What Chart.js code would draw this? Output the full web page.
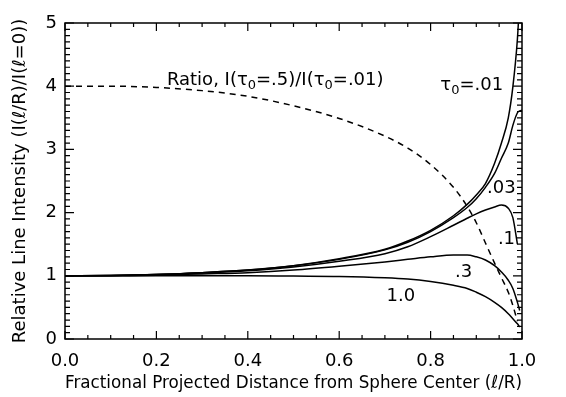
<!DOCTYPE html>
<html>
<head>
<meta charset="utf-8">
<script src="https://cdn.jsdelivr.net/npm/chart.js@4"></script>
<style>
  html,body{margin:0;padding:0;background:#fff;}
  #wrap{width:566px;height:397px;}
</style>
</head>
<body>
<div id="wrap"><canvas id="c"></canvas></div>
<script>
// shared x grid (l/R) and the curves
const xGrid  = [0, 0.1, 0.2, 0.3, 0.4, 0.5, 0.6, 0.7, 0.75, 0.8, 0.85, 0.88, 0.9, 0.92, 0.94, 0.955, 0.97, 0.98, 0.99, 0.995, 1.0];
const tau01  = [1.0, 1.005, 1.02, 1.05, 1.09, 1.16, 1.27, 1.42, 1.55, 1.72, 1.95, 2.13, 2.28, 2.46, 2.78, 3.1, 3.5, 3.99, 4.75, 5.4, null];
const tau03  = [1.0, 1.005, 1.02, 1.05, 1.09, 1.16, 1.26, 1.41, 1.53, 1.70, 1.92, 2.08, 2.22, 2.40, 2.62, 2.86, 3.1, 3.38, 3.58, 3.61, 3.62];
const tau1   = [1.0, 1.005, 1.02, 1.045, 1.08, 1.14, 1.23, 1.35, 1.46, 1.62, 1.80, 1.91, 1.98, 2.04, 2.09, 2.12, 2.07, 1.92, 1.5, null, null];
const tau3   = [1.0, 1.0, 1.01, 1.03, 1.05, 1.09, 1.15, 1.22, 1.26, 1.30, 1.33, 1.33, 1.30, 1.25, 1.16, 1.06, 0.93, 0.8, 0.58, 0.45, null];
const tau10  = [1.0, 1.0, 1.0, 1.0, 1.0, 0.995, 0.99, 0.97, 0.95, 0.91, 0.85, 0.80, 0.74, 0.67, 0.58, 0.5, 0.40, 0.32, 0.24, 0.19, null];
const ratio  = [4.0, 4.0, 3.98, 3.93, 3.84, 3.69, 3.49, 3.21, 3.02, 2.76, 2.4, 2.1, 1.84, 1.52, 1.2, 0.97, 0.74, 0.53, 0.28, null, null];

const xTicks = [0, 0.2, 0.4, 0.6, 0.8, 1.0];
const yTicks = [0, 1, 2, 3, 4, 5];

// text labels in the plot, "_0" means subscript 0
const notes = [
  { text:"Ratio, I(τ_0=.5)/I(τ_0=.01)", x:0.46, y:4.1 },
  { text:"τ_0=.01", x:0.89, y:4.02 },
  { text:".03", x:0.955, y:2.39 },
  { text:".1",  x:0.966, y:1.57 },
  { text:".3",  x:0.872, y:1.06 },
  { text:"1.0", x:0.735, y:0.67 },
];

const FONT = "'DejaVu Sans', sans-serif";
const FS = 18;
const pts = arr => xGrid.map((x,i)=>({x, y:arr[i]})).filter(p=>p.y!==null);

function line(arr, dash) {
  return { data:pts(arr), borderColor:"#000", borderWidth:1.5, pointRadius:0,
           cubicInterpolationMode:"monotone", borderDash:dash||[], fill:false };
}

function drawRich(ctx, str, cx, cy, size) {
  const parts = str.split(/_(\w)/);
  const big = size+"px "+FONT, small = Math.round(size*0.7)+"px "+FONT;
  let w = 0;
  parts.forEach((p,i)=>{ ctx.font = i%2 ? small : big; w += ctx.measureText(p).width; });
  let x = cx - w/2;
  ctx.textBaseline = "middle";
  parts.forEach((p,i)=>{
    ctx.font = i%2 ? small : big;
    ctx.fillText(p, x, i%2 ? cy+size*0.3 : cy);
    x += ctx.measureText(p).width;
  });
}

const frame = {
  id:"frame",
  afterDraw(chart) {
    const {ctx, chartArea:a, scales:{x, y}} = chart;
    ctx.save();
    ctx.strokeStyle = "#000"; ctx.lineWidth = 1.5;
    ctx.strokeRect(a.left, a.top, a.right-a.left, a.bottom-a.top);
    ctx.lineWidth = 1.2;
    ctx.beginPath();
    for (let i=0;i<=20;i++) {
      const px = x.getPixelForValue(i*0.05), len = i%4===0 ? 8 : 4;
      ctx.moveTo(px, a.bottom); ctx.lineTo(px, a.bottom-len);
      ctx.moveTo(px, a.top); ctx.lineTo(px, a.top+len);
    }
    for (let i=0;i<=50;i++) {
      const py = y.getPixelForValue(i*0.1), len = i%10===0 ? 9 : 5;
      ctx.moveTo(a.left, py); ctx.lineTo(a.left+len, py);
      ctx.moveTo(a.right, py); ctx.lineTo(a.right-len, py);
    }
    ctx.stroke();
    ctx.fillStyle = "#000";
    notes.forEach(n => drawRich(ctx, n.text, x.getPixelForValue(n.x), y.getPixelForValue(n.y), FS));
    ctx.restore();
  }
};

new Chart(document.getElementById("c"), {
  type:"line",
  data:{ datasets:[ line(tau01), line(tau03), line(tau1), line(tau3), line(tau10), line(ratio,[6,5]) ] },
  options:{
    responsive:true, maintainAspectRatio:false, animation:false,
    layout:{ padding:{ left:0, top:23, right:44, bottom:0 } },
    plugins:{ legend:{display:false}, tooltip:{enabled:false} },
    scales:{
      x:{ type:"linear", min:0, max:1,
          afterBuildTicks:s=>{ s.ticks = xTicks.map(v=>({value:v})); },
          afterFit:s=>{ s.height = 58; },
          grid:{display:false, drawTicks:false}, border:{display:false},
          ticks:{ color:"#000", padding:12, font:{family:FONT, size:FS}, callback:v=>v.toFixed(1), maxRotation:0 },
          title:{ display:true, text:"Fractional Projected Distance from Sphere Center (ℓ/R)", color:"#000",
                  font:{family:FONT, size:FS}, padding:{top:0, bottom:3} } },
      y:{ min:0, max:5,
          afterBuildTicks:s=>{ s.ticks = yTicks.map(v=>({value:v})); },
          afterFit:s=>{ s.width = 65; },
          grid:{display:false, drawTicks:false}, border:{display:false},
          ticks:{ color:"#000", padding:8, font:{family:FONT, size:FS} },
          title:{ display:true, text:"Relative Line Intensity (I(ℓ/R)/I(ℓ=0))", color:"#000",
                  font:{family:FONT, size:FS}, padding:{top:10, bottom:4} } }
    }
  },
  plugins:[frame]
});
</script>
</body>
</html>
